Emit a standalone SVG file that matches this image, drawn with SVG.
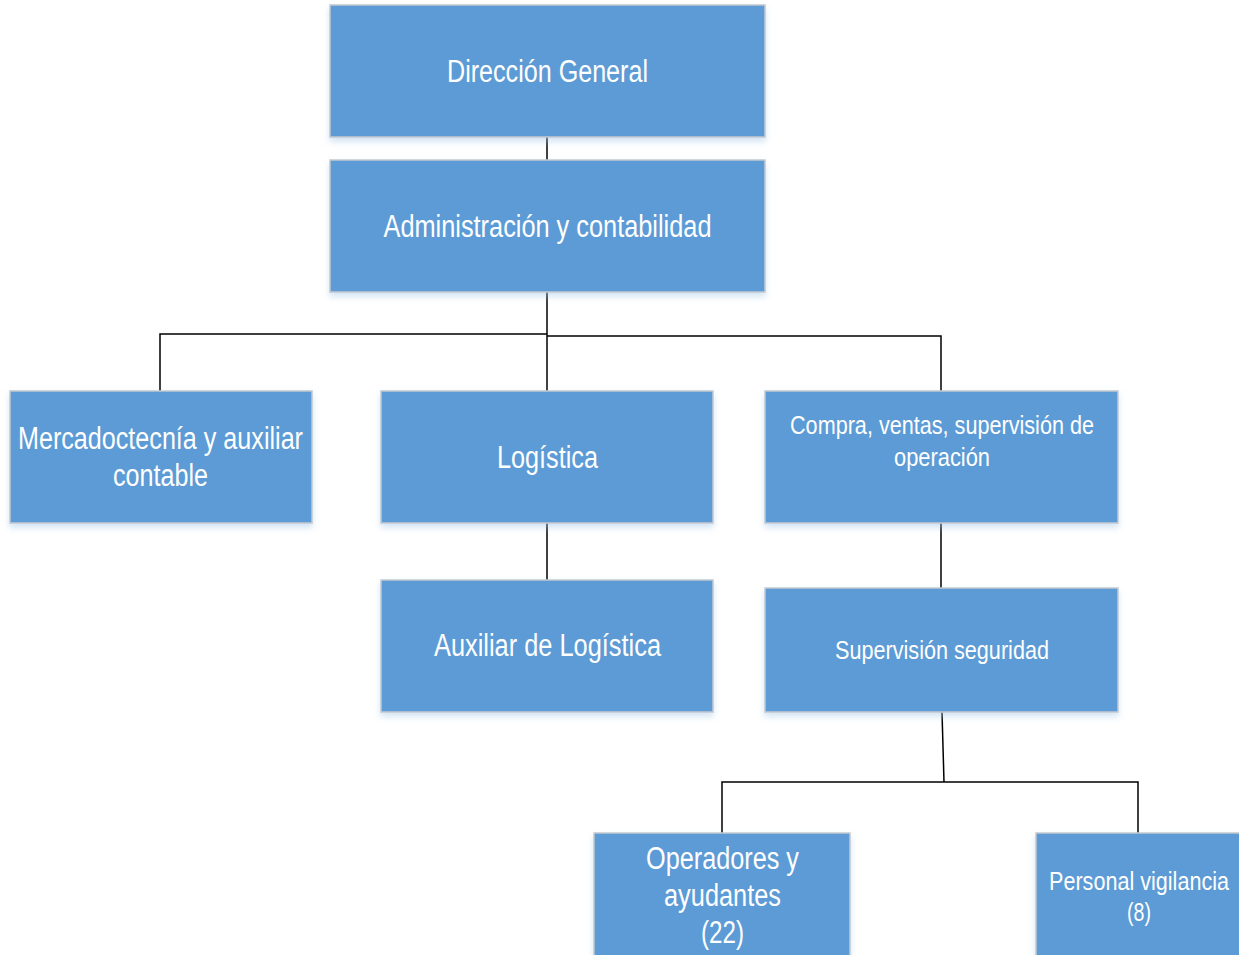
<svg xmlns="http://www.w3.org/2000/svg" width="1239" height="955" viewBox="0 0 1239 955">
<style>
.box{fill:#5B9BD5;stroke:#C4C9D0;stroke-width:1.5;filter:url(#sh)}
.t{fill:#FFFFFF;font-family:"Liberation Sans",Arial,sans-serif;text-anchor:middle}
.L{font-size:31px}
.S{font-size:25px}
.c{fill:none;stroke:#000;stroke-width:1.5}
</style>
<defs>
<filter id="sh" x="-5%" y="-5%" width="110%" height="120%">
<feDropShadow dx="0" dy="4" stdDeviation="3" flood-color="#9DC3E6" flood-opacity="0.45"/>
</filter>
</defs>
<g id="connectors">
<line class="c" x1="547" y1="137" x2="547" y2="160"/>
<polyline class="c" points="547,292 547,391"/>
<polyline class="c" points="160,391 160,334 547,334"/>
<polyline class="c" points="547,336 941,336 941,391"/>
<line class="c" x1="547" y1="523" x2="547" y2="580"/>
<line class="c" x1="941" y1="523" x2="941" y2="588"/>
<line class="c" x1="942" y1="712" x2="944" y2="782"/>
<polyline class="c" points="722,833 722,782 1138,782 1138,833"/>
</g>
<g id="n-direccion">
<rect class="box" x="330" y="5" width="435" height="132"/>
<text class="t L" x="547.5" y="82" textLength="201" lengthAdjust="spacingAndGlyphs">Dirección General</text>
</g>
<g id="n-admin">
<rect class="box" x="330" y="160" width="435" height="132"/>
<text class="t L" x="547.5" y="237" textLength="328" lengthAdjust="spacingAndGlyphs">Administración y contabilidad</text>
</g>
<g id="n-mercado">
<rect class="box" x="10" y="391" width="302" height="132"/>
<text class="t L" x="160.5" y="449" textLength="285" lengthAdjust="spacingAndGlyphs">Mercadoctecnía y auxiliar</text>
<text class="t L" x="160.5" y="486" textLength="95" lengthAdjust="spacingAndGlyphs">contable</text>
</g>
<g id="n-logistica">
<rect class="box" x="381" y="391" width="332" height="132"/>
<text class="t L" x="547.5" y="468" textLength="101" lengthAdjust="spacingAndGlyphs">Logística</text>
</g>
<g id="n-compra">
<rect class="box" x="765" y="391" width="353" height="132"/>
<text class="t S" x="942" y="434" textLength="304" lengthAdjust="spacingAndGlyphs">Compra, ventas, supervisión de</text>
<text class="t S" x="942" y="466" textLength="96" lengthAdjust="spacingAndGlyphs">operación</text>
</g>
<g id="n-auxlog">
<rect class="box" x="381" y="580" width="332" height="132"/>
<text class="t L" x="547.5" y="656" textLength="227" lengthAdjust="spacingAndGlyphs">Auxiliar de Logística</text>
</g>
<g id="n-superv">
<rect class="box" x="765" y="588" width="353" height="124"/>
<text class="t S" x="942" y="659" textLength="214" lengthAdjust="spacingAndGlyphs">Supervisión seguridad</text>
</g>
<g id="n-operadores">
<rect class="box" x="594" y="833" width="256" height="140"/>
<text class="t L" x="722.5" y="869" textLength="153" lengthAdjust="spacingAndGlyphs">Operadores y</text>
<text class="t L" x="722.5" y="906" textLength="117" lengthAdjust="spacingAndGlyphs">ayudantes</text>
<text class="t L" x="722.5" y="943" textLength="43" lengthAdjust="spacingAndGlyphs">(22)</text>
</g>
<g id="n-personal">
<rect class="box" x="1036" y="833" width="204" height="140"/>
<text class="t S" x="1139" y="890" textLength="180" lengthAdjust="spacingAndGlyphs">Personal vigilancia</text>
<text class="t S" x="1139" y="921" textLength="24" lengthAdjust="spacingAndGlyphs">(8)</text>
</g>
</svg>
